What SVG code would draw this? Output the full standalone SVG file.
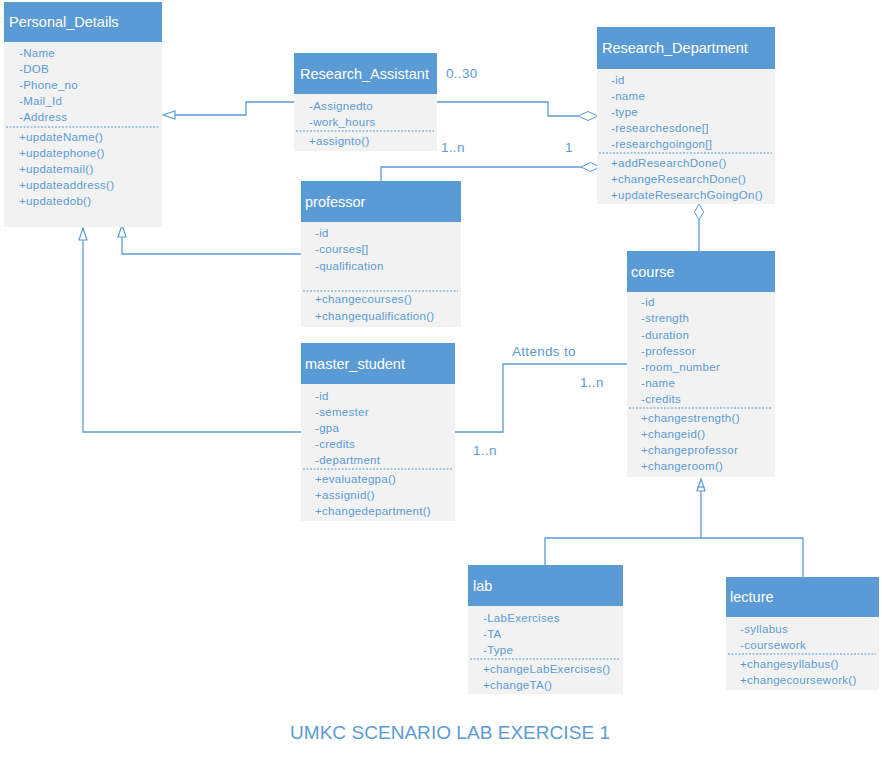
<svg xmlns="http://www.w3.org/2000/svg" width="882" height="759" viewBox="0 0 882 759">
<style>
.hd{fill:#5B9BD5}
.bd{fill:#F2F2F2}
.tt{font-family:"Liberation Sans",Arial,sans-serif;font-size:14.5px;fill:#ffffff;dominant-baseline:central}
.at{font-family:"Liberation Sans",Arial,sans-serif;font-size:11.5px;letter-spacing:0.3px;fill:#5B9BD5;dominant-baseline:central}
.sep{stroke:#5B9BD5;stroke-width:1;stroke-dasharray:2,1.5}
.ln{fill:none;stroke:#5B9BD5;stroke-width:1.3}
.tri{fill:#ffffff;stroke:#5B9BD5;stroke-width:1.2}
.dia{fill:#ffffff;stroke:#5B9BD5;stroke-width:1}
.lbl{font-family:"Liberation Sans",Arial,sans-serif;font-size:13.5px;letter-spacing:0.3px;fill:#5B9BD5;dominant-baseline:central}
</style>
<rect width="882" height="759" fill="#ffffff"/>
<g id="connectors">
<polyline class="ln" points="295,102 246,102 246,115 175,115"/>
<polygon class="tri" points="163,115 175,111 175,119"/>
<polyline class="ln" points="437,102 548,102 548,116 578,116"/>
<polygon class="dia" points="578,116 588,111.5 598,116 588,120.5"/>
<polyline class="ln" points="381,181 381,167 581,167"/>
<polygon class="dia" points="581,167 590.5,162.5 600,167 590.5,171.5"/>
<polyline class="ln" points="301,254 122,254 122,237"/>
<polygon class="tri" points="122,225 118,237 126,237"/>
<polyline class="ln" points="301,432 83,432 83,240"/>
<polygon class="tri" points="83,228 79,240 87,240"/>
<line class="ln" x1="699" y1="220" x2="699" y2="252"/>
<polygon class="dia" points="699,204 703.5,212 699,220 694.5,212"/>
<polyline class="ln" points="455,432 503,432 503,364 627,364"/>
<polyline class="ln" points="545,565 545,538 803,538 803,577"/>
<line class="ln" x1="701" y1="538" x2="701" y2="491"/>
<polygon class="tri" points="701,479 697,491 705,491"/>
<line class="ln" x1="697.5" y1="487" x2="704.5" y2="487"/>
<text class="lbl" x="446" y="73">0..30</text>
<text class="lbl" x="441" y="147">1..n</text>
<text class="lbl" x="565" y="147">1</text>
<text class="lbl" x="512" y="351">Attends to</text>
<text class="lbl" x="580" y="382">1..n</text>
<text class="lbl" x="473" y="450">1..n</text>
</g>
<g id="Personal_Details">
<rect class="bd" x="4" y="42" width="158" height="185"/>
<rect class="hd" x="4" y="2" width="158" height="40"/>
<text class="tt" x="9" y="22">Personal_Details</text>
<text class="at" x="19" y="53">-Name</text>
<text class="at" x="19" y="69">-DOB</text>
<text class="at" x="19" y="85">-Phone_no</text>
<text class="at" x="19" y="101">-Mail_Id</text>
<text class="at" x="19" y="117">-Address</text>
<line class="sep" x1="6" y1="127" x2="159" y2="127"/>
<text class="at" x="19" y="137">+updateName()</text>
<text class="at" x="19" y="153">+updatephone()</text>
<text class="at" x="19" y="169">+updatemail()</text>
<text class="at" x="19" y="185">+updateaddress()</text>
<text class="at" x="19" y="201">+updatedob()</text>
</g>
<g id="Research_Assistant">
<rect class="bd" x="294" y="94" width="143" height="57"/>
<rect class="hd" x="294" y="53" width="143" height="41"/>
<text class="tt" x="300" y="74">Research_Assistant</text>
<text class="at" x="309" y="106">-Assignedto</text>
<text class="at" x="309" y="122">-work_hours</text>
<line class="sep" x1="296" y1="131" x2="434" y2="131"/>
<text class="at" x="309" y="141">+assignto()</text>
</g>
<g id="Research_Department">
<rect class="bd" x="597" y="69" width="178" height="135"/>
<rect class="hd" x="597" y="27" width="178" height="42"/>
<text class="tt" x="602" y="48">Research_Department</text>
<text class="at" x="611" y="80">-id</text>
<text class="at" x="611" y="96">-name</text>
<text class="at" x="611" y="112">-type</text>
<text class="at" x="611" y="128">-researchesdone[]</text>
<text class="at" x="611" y="144">-researchgoingon[]</text>
<line class="sep" x1="599" y1="153" x2="772" y2="153"/>
<text class="at" x="611" y="163">+addResearchDone()</text>
<text class="at" x="611" y="179">+changeResearchDone()</text>
<text class="at" x="611" y="195">+updateResearchGoingOn()</text>
</g>
<g id="professor">
<rect class="bd" x="301" y="222" width="160" height="105"/>
<rect class="hd" x="301" y="181" width="160" height="41"/>
<text class="tt" x="305" y="202">professor</text>
<text class="at" x="315" y="233">-id</text>
<text class="at" x="315" y="249">-courses[]</text>
<text class="at" x="315" y="266">-qualification</text>
<line class="sep" x1="303" y1="291" x2="458" y2="291" stroke-dasharray="1.5,1.5"/>
<text class="at" x="315" y="299">+changecourses()</text>
<text class="at" x="315" y="316">+changequalification()</text>
</g>
<g id="master_student">
<rect class="bd" x="301" y="384" width="154" height="137"/>
<rect class="hd" x="301" y="343" width="154" height="41"/>
<text class="tt" x="305" y="364">master_student</text>
<text class="at" x="315" y="396">-id</text>
<text class="at" x="315" y="412">-semester</text>
<text class="at" x="315" y="428">-gpa</text>
<text class="at" x="315" y="444">-credits</text>
<text class="at" x="315" y="460">-department</text>
<line class="sep" x1="303" y1="469" x2="452" y2="469"/>
<text class="at" x="315" y="479">+evaluategpa()</text>
<text class="at" x="315" y="495">+assignid()</text>
<text class="at" x="315" y="511">+changedepartment()</text>
</g>
<g id="course">
<rect class="bd" x="627" y="292" width="148" height="185"/>
<rect class="hd" x="627" y="251" width="148" height="41"/>
<text class="tt" x="631" y="272">course</text>
<text class="at" x="641" y="302">-id</text>
<text class="at" x="641" y="318">-strength</text>
<text class="at" x="641" y="335">-duration</text>
<text class="at" x="641" y="351">-professor</text>
<text class="at" x="641" y="367">-room_number</text>
<text class="at" x="641" y="383">-name</text>
<text class="at" x="641" y="399">-credits</text>
<line class="sep" x1="629" y1="408" x2="772" y2="408"/>
<text class="at" x="641" y="418">+changestrength()</text>
<text class="at" x="641" y="434">+changeid()</text>
<text class="at" x="641" y="450">+changeprofessor</text>
<text class="at" x="641" y="466">+changeroom()</text>
</g>
<g id="lab">
<rect class="bd" x="468" y="606" width="155" height="88"/>
<rect class="hd" x="468" y="565" width="155" height="41"/>
<text class="tt" x="473" y="586">lab</text>
<text class="at" x="483" y="618">-LabExercises</text>
<text class="at" x="483" y="634">-TA</text>
<text class="at" x="483" y="650">-Type</text>
<line class="sep" x1="470" y1="659" x2="620" y2="659"/>
<text class="at" x="483" y="669">+changeLabExercises()</text>
<text class="at" x="483" y="685">+changeTA()</text>
</g>
<g id="lecture">
<rect class="bd" x="726" y="617" width="153" height="73"/>
<rect class="hd" x="726" y="577" width="153" height="40"/>
<text class="tt" x="730" y="597">lecture</text>
<text class="at" x="740" y="629">-syllabus</text>
<text class="at" x="740" y="645">-coursework</text>
<line class="sep" x1="728" y1="654" x2="876" y2="654"/>
<text class="at" x="740" y="664">+changesyllabus()</text>
<text class="at" x="740" y="680">+changecoursework()</text>
</g>
<text x="450" y="732" text-anchor="middle" font-family="'Liberation Sans',Arial,sans-serif" font-size="19" fill="#5B9BD5" dominant-baseline="central" textLength="320">UMKC SCENARIO LAB EXERCISE 1</text>
</svg>
